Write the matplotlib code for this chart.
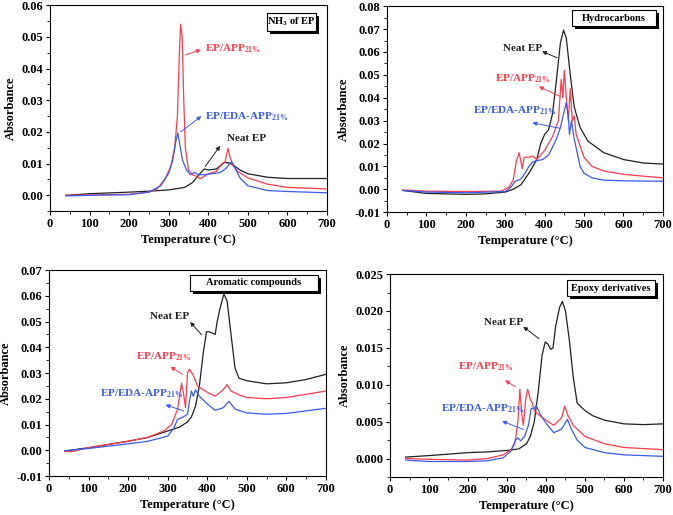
import matplotlib.pyplot as plt
from matplotlib.patches import Rectangle
from matplotlib.ticker import MultipleLocator

plt.rcParams['font.family'] = 'Liberation Serif'
plt.rcParams['font.weight'] = 'bold'
plt.rcParams['axes.labelweight'] = 'bold'
plt.rcParams['mathtext.fontset'] = 'custom'
plt.rcParams['mathtext.rm'] = 'Liberation Serif:bold'
plt.rcParams['mathtext.bf'] = 'Liberation Serif:bold'
plt.rcParams['mathtext.it'] = 'Liberation Serif:bold'

BLACK = '#202020'
RED = '#ff3a4a'
BLUE = '#3a5af0'

# ---- NH3 of EP ----
nh3_neat_t = [40, 100, 200, 250, 300, 340, 360, 380, 390, 400, 420, 440, 450, 460, 480, 500, 550, 600, 700]
nh3_neat_a = [0.0, 0.0005, 0.001, 0.0013, 0.0017, 0.0025, 0.004, 0.007, 0.0083, 0.008, 0.0083, 0.0103,
              0.0103, 0.0098, 0.008, 0.0068, 0.0057, 0.0053, 0.0053]
nh3_app_t = [40, 100, 200, 250, 270, 290, 305, 315, 322, 327, 330, 334, 338, 342, 350, 360, 370, 380, 390,
             400, 420, 435, 442, 450, 455, 462, 475, 500, 550, 600, 700]
nh3_app_a = [0.0, 0.0001, 0.0003, 0.001, 0.002, 0.005, 0.009, 0.015, 0.025, 0.045, 0.054, 0.05, 0.03, 0.015,
             0.008, 0.0065, 0.006, 0.0052, 0.006, 0.0068, 0.0075, 0.01, 0.0105, 0.0148, 0.012, 0.0095, 0.0075,
             0.0055, 0.0035, 0.0025, 0.002]
nh3_eda_t = [40, 100, 200, 250, 280, 300, 310, 318, 323, 328, 335, 345, 355, 365, 375, 390, 410, 430, 445,
             455, 460, 470, 480, 500, 550, 600, 700]
nh3_eda_a = [-0.0002, 0.0, 0.0002, 0.001, 0.003, 0.007, 0.011, 0.017, 0.0197, 0.016, 0.011, 0.008, 0.0065,
             0.0072, 0.0065, 0.0065, 0.0068, 0.0072, 0.0085, 0.0103, 0.0105, 0.008, 0.0055, 0.003, 0.0015,
             0.0012, 0.0008]

# ---- Hydrocarbons ----
hc_neat_t = [40, 100, 200, 250, 300, 320, 340, 360, 380, 390, 400, 410, 420, 430, 440, 448, 455, 465, 475,
             490, 510, 550, 600, 650, 700]
hc_neat_a = [-0.0005, -0.0018, -0.0022, -0.002, -0.0012, 0.0, 0.002, 0.007, 0.013, 0.02, 0.024, 0.026, 0.033,
             0.048, 0.064, 0.0695, 0.066, 0.05, 0.036, 0.027, 0.021, 0.016, 0.013, 0.0115, 0.011]
hc_app_t = [40, 100, 200, 290, 310, 320, 328, 335, 340, 343, 348, 360, 370, 380, 400, 420, 435, 442, 446, 450,
            455, 460, 465, 470, 475, 480, 500, 520, 550, 600, 700]
hc_app_a = [-0.0003, -0.0008, -0.001, -0.0008, 0.001, 0.004, 0.012, 0.016, 0.012, 0.009, 0.014, 0.014, 0.0145,
            0.013, 0.017, 0.023, 0.03, 0.048, 0.04, 0.052, 0.04, 0.03, 0.044, 0.03, 0.032, 0.024, 0.014, 0.01,
            0.008, 0.0065, 0.005]
hc_eda_t = [40, 100, 200, 300, 315, 325, 340, 350, 360, 370, 380, 395, 410, 430, 440, 448, 455, 460, 463, 468,
            475, 490, 500, 520, 550, 600, 700]
hc_eda_a = [-0.0005, -0.0012, -0.0015, -0.001, 0.001, 0.0035, 0.0045, 0.007, 0.01, 0.012, 0.0125, 0.013,
            0.015, 0.022, 0.027, 0.033, 0.038, 0.032, 0.024, 0.03, 0.022, 0.01, 0.007, 0.005, 0.004, 0.0037,
            0.0035]

# ---- Aromatic compounds ----
ar_neat_t = [40, 100, 200, 250, 300, 330, 350, 360, 370, 380, 390, 398, 405, 420, 425, 432, 442, 450, 460,
             470, 480, 500, 550, 600, 650, 700]
ar_neat_a = [-0.0003, 0.001, 0.0035, 0.005, 0.0075, 0.009, 0.011, 0.013, 0.017, 0.025, 0.038, 0.046, 0.046,
             0.045, 0.05, 0.055, 0.0607, 0.058, 0.045, 0.032, 0.028, 0.027, 0.0258, 0.0262, 0.0275, 0.0295]
ar_app_t = [40, 60, 100, 200, 250, 290, 310, 325, 335, 340, 345, 350, 355, 365, 375, 400, 420, 440, 450, 460,
            480, 500, 550, 600, 700]
ar_app_a = [-0.0005, -0.0005, 0.001, 0.0035, 0.005, 0.0075, 0.01, 0.016, 0.026, 0.022, 0.0165, 0.03, 0.0315,
            0.029, 0.025, 0.0225, 0.021, 0.0235, 0.0255, 0.023, 0.0215, 0.0205, 0.02, 0.0205, 0.023]
ar_eda_t = [40, 100, 200, 250, 300, 315, 325, 340, 350, 355, 360, 365, 370, 380, 400, 420, 440, 455, 470, 500,
            550, 600, 700]
ar_eda_a = [-0.0002, 0.0007, 0.0025, 0.0035, 0.0055, 0.0085, 0.012, 0.013, 0.014, 0.019, 0.023, 0.021, 0.0235,
            0.021, 0.018, 0.0155, 0.0165, 0.019, 0.016, 0.0145, 0.014, 0.0143, 0.0163]

# ---- Epoxy derivatives ----
ep_neat_t = [40, 100, 200, 250, 300, 330, 350, 360, 370, 380, 390, 398, 405, 412, 418, 425, 435, 442, 450,
             460, 470, 480, 500, 520, 550, 600, 650, 700]
ep_neat_a = [0.0002, 0.0004, 0.0008, 0.0009, 0.0011, 0.0013, 0.002, 0.003, 0.005, 0.009, 0.014, 0.0158, 0.0155,
             0.0148, 0.015, 0.018, 0.0205, 0.0213, 0.02, 0.016, 0.011, 0.0075, 0.0065, 0.0058, 0.0052, 0.0047,
             0.0046, 0.0047]
ep_app_t = [40, 100, 200, 250, 290, 310, 320, 328, 333, 338, 342, 348, 353, 360, 365, 370, 380, 400, 420, 440,
            448, 455, 470, 500, 550, 600, 700]
ep_app_a = [0.0, -0.0001, -0.0002, 0.0, 0.0005, 0.0012, 0.002, 0.005, 0.0094, 0.006, 0.0045, 0.008, 0.0094,
            0.008, 0.0075, 0.0065, 0.006, 0.0052, 0.0045, 0.0055, 0.0071, 0.006, 0.0045, 0.003, 0.002, 0.0015,
            0.0012]
ep_eda_t = [40, 100, 200, 250, 290, 310, 322, 328, 335, 345, 355, 362, 370, 375, 385, 400, 420, 440, 455, 465,
            480, 500, 550, 600, 700]
ep_eda_a = [-0.0002, -0.0004, -0.0004, -0.0003, 0.0001, 0.001, 0.0025, 0.0028, 0.0024, 0.003, 0.0045, 0.0068,
            0.0068, 0.0072, 0.006, 0.0048, 0.0035, 0.004, 0.0053, 0.004, 0.0025, 0.0015, 0.0008, 0.0005,
            0.0003]

APP = r'EP/APP$_{21\%}$'
EDA = r'EP/EDA-APP$_{21\%}$'

# box = (x0, y0, x1, y1) in axes fraction
panels = [
    dict(rect=[0.0743, 0.590, 0.4116, 0.400], ylim=(-0.005, 0.06), step=0.01, minor=0.005, fmt='%.2f',
         title=r'NH$_{3}$ of EP', box=(0.783, 0.874, 0.960, 0.961),
         series=[(nh3_neat_t, nh3_neat_a, BLACK), (nh3_app_t, nh3_app_a, RED), (nh3_eda_t, nh3_eda_a, BLUE)],
         notes=[('Neat EP', BLACK, (447, 0.0179), (388, 0.0084), (434, 0.0163)),
                (APP, RED, (392, 0.0463), (335, 0.044), (388, 0.0462)),
                (EDA, BLUE, (392, 0.0247), (325, 0.0195), (388, 0.0255))]),
    dict(rect=[0.575, 0.588, 0.410, 0.400], ylim=(-0.01, 0.08), step=0.01, minor=0.005, fmt='%.2f',
         title='Hydrocarbons', box=(0.670, 0.903, 0.975, 0.981),
         series=[(hc_neat_t, hc_neat_a, BLACK), (hc_app_t, hc_app_a, RED), (hc_eda_t, hc_eda_a, BLUE)],
         notes=[('Neat EP', BLACK, (295, 0.0614), (438, 0.057), (387, 0.0607)),
                (APP, RED, (275, 0.0483), (446, 0.040), (379, 0.0454)),
                (EDA, BLUE, (218, 0.0344), (446, 0.0264), (362, 0.0293))]),
    dict(rect=[0.0728, 0.0757, 0.4116, 0.400], ylim=(-0.01, 0.07), step=0.01, minor=0.005, fmt='%.2f',
         title='Aromatic compounds', box=(0.509, 0.898, 0.971, 0.976),
         series=[(ar_neat_t, ar_neat_a, BLACK), (ar_app_t, ar_app_a, RED), (ar_eda_t, ar_eda_a, BLUE)],
         notes=[('Neat EP', BLACK, (255, 0.0519), (390, 0.0441), (352, 0.0506)),
                (APP, RED, (221, 0.0363), (343, 0.0289), (301, 0.033)),
                (EDA, BLUE, (128, 0.022), (347, 0.0149), (288, 0.018))]),
    dict(rect=[0.5795, 0.0738, 0.4056, 0.394], ylim=(-0.0025, 0.025), step=0.005, minor=0.0025, fmt='%.3f',
         title='Epoxy derivatives', box=(0.648, 0.892, 0.971, 0.970),
         series=[(ep_neat_t, ep_neat_a, BLACK), (ep_app_t, ep_app_a, RED), (ep_eda_t, ep_eda_a, BLUE)],
         notes=[('Neat EP', BLACK, (242, 0.0185), (388, 0.016), (336, 0.0181)),
                (APP, RED, (174, 0.0124), (328, 0.0095), (289, 0.0108)),
                (EDA, BLUE, (131, 0.0068), (349, 0.0038), (281, 0.0052))]),
]

fig = plt.figure(figsize=(6.73, 5.15), dpi=100)

for p in panels:
    ax = fig.add_axes(p['rect'])
    for t, a, c in p['series']:
        ax.plot(t, a, color=c, lw=0.9)
    ax.set_xlim(0, 700)
    ax.set_ylim(*p['ylim'])
    ax.xaxis.set_major_locator(MultipleLocator(100))
    ax.xaxis.set_minor_locator(MultipleLocator(50))
    ax.yaxis.set_major_locator(MultipleLocator(p['step']))
    ax.yaxis.set_minor_locator(MultipleLocator(p['minor']))
    ax.yaxis.set_major_formatter(plt.FormatStrFormatter(p['fmt']))
    ax.tick_params(which='major', direction='out', length=3, width=0.8, labelsize=9, pad=2)
    ax.tick_params(which='minor', direction='out', length=2, width=0.6)
    for s in ax.spines.values():
        s.set_linewidth(0.8)
    ax.set_xlabel('Temperature (°C)', fontsize=9, labelpad=3)
    ax.set_ylabel('Absorbance', fontsize=9, labelpad=3)

    # title box with drop shadow
    x0, y0, x1, y1 = p['box']
    w_ax = p['rect'][2] * 673
    h_ax = p['rect'][3] * 515
    dx, dy = 3.0 / w_ax, 3.0 / h_ax
    ax.add_patch(Rectangle((x0 + dx, y0 - dy), x1 - x0, y1 - y0, transform=ax.transAxes,
                           fc='black', ec='black', lw=0, zorder=5, clip_on=False))
    ax.add_patch(Rectangle((x0, y0), x1 - x0, y1 - y0, transform=ax.transAxes,
                           fc='white', ec='black', lw=0.8, zorder=6, clip_on=False))
    ax.text((x0 + x1) / 2, (y0 + y1) / 2, p['title'], transform=ax.transAxes, fontsize=7.5,
            ha='center', va='center', color='black', zorder=7)

    for label, c, tp, tail, head in p['notes']:
        ax.annotate('', xy=head, xytext=tail,
                    arrowprops=dict(arrowstyle='-|>', color=c, lw=0.7, mutation_scale=6))
        ax.text(tp[0], tp[1], label, color=c, fontsize=8, ha='left', va='center')

fig.savefig('out.png', dpi=100)
